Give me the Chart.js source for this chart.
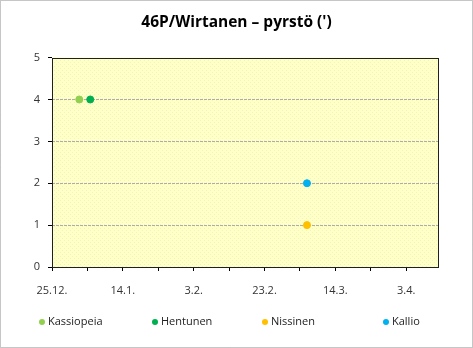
<!DOCTYPE html>
<html>
<head>
<meta charset="utf-8">
<script src="https://cdn.jsdelivr.net/npm/chart.js@4/dist/chart.umd.min.js"></script>
<style>
  html, body { margin: 0; padding: 0; background: #fff; }
  #wrap { width: 473px; height: 348px; position: relative; }
</style>
</head>
<body>
<div id="wrap"><canvas id="c" width="473" height="348"></canvas></div>
<script>
// days counted from 25.12.
const tickDays = [0, 20, 40, 60, 80, 100];
const tickLabels = ['25.12.', '14.1.', '3.2.', '23.2.', '14.3.', '3.4.'];

const observers = ['Kassiopeia', 'Hentunen', 'Nissinen', 'Kallio'];
const colors = ['#92D050', '#00B050', '#FFC000', '#00B0F0'];

// observation day and tail length
const kassiopeiaDays = [7.7];
const kassiopeiaTail = [4];
const hentunenDays = [10.8];
const hentunenTail = [4];
const nissinenDays = [72];
const nissinenTail = [1];
const kallioDays = [72];
const kallioTail = [2];

const allDays = [kassiopeiaDays, hentunenDays, nissinenDays, kallioDays];
const allTail = [kassiopeiaTail, hentunenTail, nissinenTail, kallioTail];

const datasets = observers.map((name, i) => ({
  label: name,
  data: allDays[i].map((d, j) => ({ x: d, y: allTail[i][j] })),
  backgroundColor: colors[i],
  borderColor: colors[i],
  pointRadius: 3.5,
  pointHoverRadius: 3.5,
  showLine: false
}));

// light yellow fill with faint dots
function dotPattern(ctx) {
  const p = document.createElement('canvas');
  p.width = 4; p.height = 4;
  const pc = p.getContext('2d');
  pc.fillStyle = '#FFFFC8';
  pc.fillRect(0, 0, 4, 4);
  pc.fillStyle = '#F4F4B8';
  pc.fillRect(0, 0, 1, 1);
  pc.fillRect(2, 2, 1, 1);
  return ctx.createPattern(p, 'repeat');
}

// plot background, frame and outer dashed border
const frame = {
  id: 'frame',
  beforeDraw(chart) {
    const { ctx, chartArea: a } = chart;
    ctx.save();
    ctx.fillStyle = dotPattern(ctx);
    ctx.fillRect(a.left, a.top, a.right - a.left, a.bottom - a.top);
    ctx.strokeStyle = '#8C8C8C';
    ctx.setLineDash([1, 1]);
    ctx.lineWidth = 1;
    ctx.strokeRect(0.5, 0.5, chart.width - 1, chart.height - 1);
    ctx.restore();
  },
  beforeDatasetsDraw(chart) {
    const { ctx, chartArea: a } = chart;
    ctx.save();
    ctx.strokeStyle = '#202020';
    ctx.lineWidth = 1;
    ctx.strokeRect(Math.round(a.left) + 0.5, Math.round(a.top) + 0.5,
      Math.round(a.right - a.left), Math.round(a.bottom - a.top));
    ctx.restore();
  }
};

// legend row under the axis, one slot per series
const legendX = [42, 155, 265, 386];
const legendY = 322;
const slotLegend = {
  id: 'slotLegend',
  afterDraw(chart) {
    const { ctx } = chart;
    ctx.save();
    ctx.font = '11px "Open Sans"';
    ctx.textBaseline = 'middle';
    ctx.textAlign = 'left';
    chart.data.datasets.forEach((ds, i) => {
      ctx.fillStyle = ds.backgroundColor;
      ctx.beginPath();
      ctx.arc(legendX[i], legendY, 3, 0, Math.PI * 2);
      ctx.fill();
      ctx.fillStyle = '#222';
      ctx.fillText(ds.label, legendX[i] + 6, legendY);
    });
    ctx.restore();
  }
};

new Chart(document.getElementById('c'), {
  type: 'scatter',
  data: { datasets },
  plugins: [frame, slotLegend],
  options: {
    responsive: false,
    animation: false,
    layout: { padding: { left: 0, right: 0, top: 0, bottom: 43 } },
    plugins: {
      title: {
        display: true,
        text: '46P/Wirtanen – pyrstö (\')',
        color: '#000',
        font: { family: 'Open Sans', size: 15.5, weight: 'bold' },
        padding: { top: 13, bottom: 26 }
      },
      legend: { display: false },
      tooltip: { enabled: false }
    },
    scales: {
      x: {
        type: 'linear',
        min: 0,
        max: 109,
        afterFit(s) { s.height = 38; },
        afterBuildTicks(s) {
          const t = [];
          for (let v = 0; v <= 100; v += 10) t.push({ value: v });
          s.ticks = t;
        },
        ticks: {
          autoSkip: false,
          maxRotation: 0,
          padding: 13,
          color: '#333',
          font: { family: 'Open Sans', size: 11 },
          callback: v => {
            const i = tickDays.indexOf(v);
            return i >= 0 ? tickLabels[i] : '';
          }
        },
        grid: { drawOnChartArea: false, tickLength: 4, color: '#000' },
        border: { display: false }
      },
      y: {
        min: 0,
        max: 5,
        afterFit(s) { s.width = 52; },
        ticks: {
          stepSize: 1,
          padding: 8,
          color: '#333',
          font: { family: 'Open Sans', size: 11 }
        },
        grid: {
          tickLength: 4,
          color: c => (c.tick.value === 0 || c.tick.value === 5) ? 'rgba(0,0,0,0)' : '#ADADAD',
          tickColor: '#000'
        },
        border: { display: false, dash: [3, 1] }
      },
      // blank strip right of the plot
      yRight: {
        position: 'right',
        min: 0,
        max: 5,
        afterFit(s) { s.width = 35; },
        ticks: { display: false },
        grid: { display: false },
        border: { display: false }
      }
    }
  }
});
</script>
</body>
</html>
